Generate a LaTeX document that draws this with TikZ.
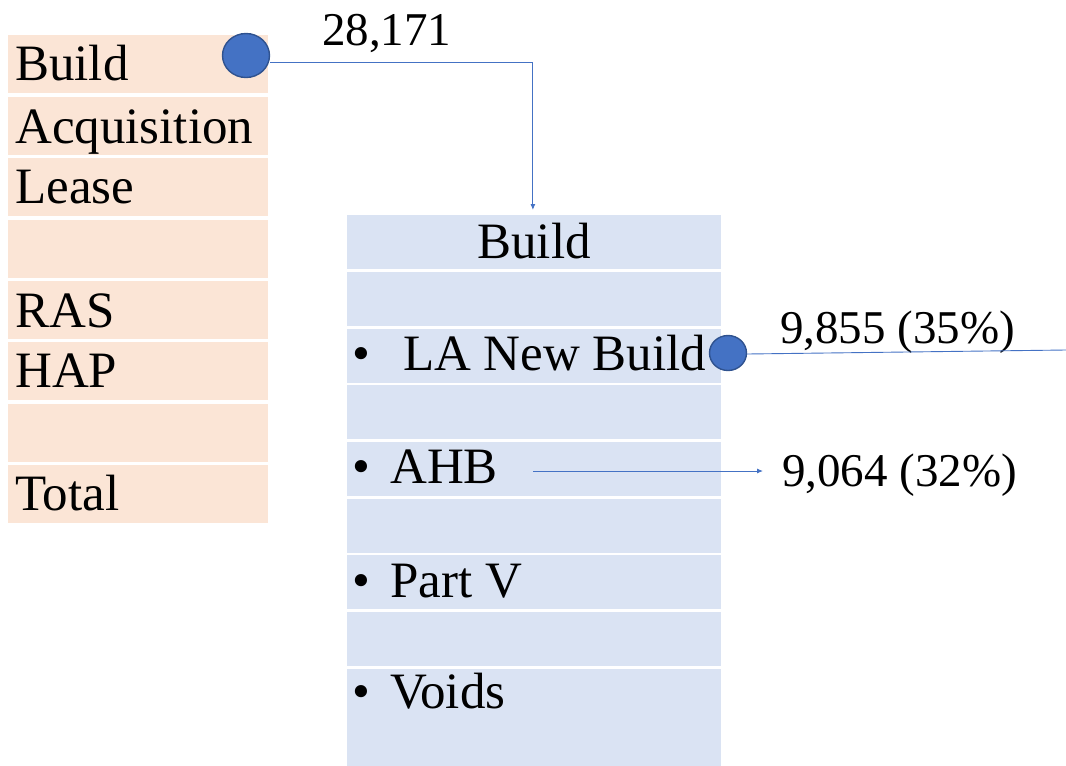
\documentclass[tikz,border=0pt]{standalone}
\usepackage{fontspec}
\setmainfont{Liberation Serif}
\usetikzlibrary{shapes.geometric,arrows.meta}
\definecolor{peach}{HTML}{FBE5D6}
\definecolor{paleblue}{HTML}{DAE3F3}
\definecolor{dotblue}{HTML}{4472C4}
\definecolor{dotedge}{HTML}{2F528F}
\tikzset{
  lcell/.style={draw=none,fill=peach,rectangle,inner sep=0pt,minimum width=260pt,minimum height=58pt,anchor=north west},
  rcell/.style={draw=none,fill=paleblue,rectangle,inner sep=0pt,minimum width=374pt,minimum height=54pt,anchor=north west},
  celltext/.style={inner sep=0pt,anchor=base west,font=\fontsize{51}{60}\selectfont},
  numtext/.style={inner sep=0pt,anchor=base west,font=\fontsize{47}{56}\selectfont},
  dot/.style={ellipse,fill=dotblue,draw=dotedge,line width=1.4pt,inner sep=0pt},
  conn/.style={draw=dotblue,line width=0.9pt},
  tip/.style={-{Latex[length=6pt,width=5pt]}}
}
\begin{document}
\begin{tikzpicture}[x=1pt,y=-1pt]
\useasboundingbox (0,0) rectangle (1066,766);
% left table
\node[lcell] (l1) at (8,35) {};
\node[lcell] (l2) at (8,97) {};
\node[lcell] (l3) at (8,158) {};
\node[lcell] (l4) at (8,219.5) {};
\node[lcell] (l5) at (8,281) {};
\node[lcell] (l6) at (8,342) {};
\node[lcell] (l7) at (8,403.5) {};
\node[lcell] (l8) at (8,465) {};
\node[celltext] (tl1) at (15,80) {Build};
\node[celltext] (tl2) at (15,143) {Acquisition};
\node[celltext] (tl3) at (15,203) {Lease};
\node[celltext] (tl5) at (15,327) {RAS};
\node[celltext] (tl6) at (15,387) {HAP};
\node[celltext] (tl8) at (15,510) {Total};
% right table
\node[rcell] (r1) at (347,215) {};
\node[rcell] (r2) at (347,272) {};
\node[rcell] (r3) at (347,328.5) {};
\node[rcell] (r4) at (347,385) {};
\node[rcell] (r5) at (347,442) {};
\node[rcell] (r6) at (347,498.5) {};
\node[rcell] (r7) at (347,555) {};
\node[rcell] (r8) at (347,612) {};
\node[rcell,minimum height=98pt] (r9) at (347,668.5) {};
\node[celltext,anchor=base] (tr1) at (534,258) {Build};
\node[celltext] (tr3) at (352,370) {\makebox[51pt][l]{•}LA New Build};
\node[celltext] (tr5) at (352,483) {\makebox[38pt][l]{•}AHB};
\node[celltext] (tr7) at (352,597) {\makebox[38pt][l]{•}Part V};
\node[celltext] (tr9) at (352,708) {\makebox[38pt][l]{•}Voids};
% numbers
\node[numtext] (n1) at (322,45) {28,171};
\node[numtext] (n2) at (780,343) {9,855 (35\%)};
\node[numtext] (n3) at (782,486) {9,064 (32\%)};
% dots and connectors
\node[dot,minimum width=47pt,minimum height=44pt] (c1) at (246,55.5) {};
\node[dot,minimum width=37pt,minimum height=35pt] (c2) at (728,353) {};
\draw[conn,tip] ([yshift=-6.5pt]c1.east) -| ([xshift=-1.3pt,yshift=5pt]r1.north);
\coordinate (e2) at (1066,350);
\draw[conn] ([yshift=-1pt]c2.east) -- (e2);
\coordinate (a1) at (533,471);
\coordinate (a2) at (763,471);
\draw[conn,tip] (a1) -- (a2);
\end{tikzpicture}
\end{document}
